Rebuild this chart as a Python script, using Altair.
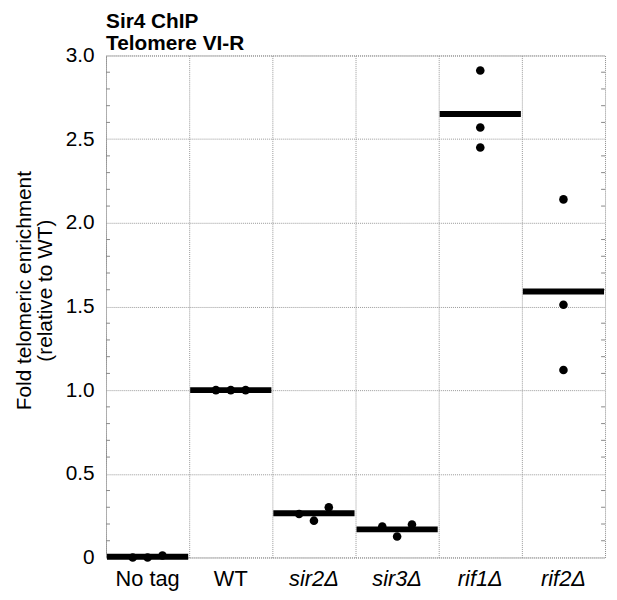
import altair as alt
import pandas as pd

categories = ["No tag", "WT", "sir2Δ", "sir3Δ", "rif1Δ", "rif2Δ"]
rep1 = [0.0, 1.0, 0.26, 0.185, 2.91, 2.14]
rep2 = [0.0, 1.0, 0.22, 0.125, 2.57, 1.51]
rep3 = [0.012, 1.0, 0.30, 0.197, 2.45, 1.12]
pos1 = ["L", "L", "L", "L", "C", "C"]
pos2 = ["C", "C", "C", "C", "C", "C"]
pos3 = ["R", "R", "R", "R", "C", "C"]
means = [0.004, 1.0, 0.264, 0.168, 2.65, 1.59]
y_ticks = [0, 0.5, 1.0, 1.5, 2.0, 2.5, 3.0]
minor_ticks = [0.1, 0.2, 0.3, 0.4, 0.6, 0.7, 0.8, 0.9, 1.1, 1.2, 1.3, 1.4,
               1.6, 1.7, 1.8, 1.9, 2.1, 2.2, 2.3, 2.4, 2.6, 2.7, 2.8, 2.9]

FONT = "Liberation Sans"

rows = []
for reps, poss in [(rep1, pos1), (rep2, pos2), (rep3, pos3)]:
    for c, v, p in zip(categories, reps, poss):
        rows.append({"cat": c, "val": v, "pos": p})
dots_df = pd.DataFrame(rows)
mean_df = pd.DataFrame({"cat": categories, "mean": means})
minor_df = pd.DataFrame({"t": minor_ticks})

xscale = alt.Scale(domain=categories, paddingInner=0, paddingOuter=0)
yscale = alt.Scale(domain=[0, 3], nice=False)

xaxis = alt.Axis(
    title=None, bandPosition=0, grid=True, gridColor="#999", gridDash=[1, 1],
    ticks=False, domain=False, labelAngle=0, labelFontSize=22, labelFont=FONT,
    labelColor="black", labelPadding=11,
    labelFontStyle={"condition": {"test": "datum.value == 'No tag' || datum.value == 'WT'",
                                  "value": "normal"}, "value": "italic"},
)
yaxis = alt.Axis(
    title=["Fold telomeric enrichment", "(relative to WT)"],
    titleFontSize=21, titleFontWeight="normal", titleFont=FONT, titleColor="black",
    titleLineHeight=21, titlePadding=10, titleY=237,
    values=y_ticks, labelExpr="datum.value == 0 ? '0' : format(datum.value, '.1f')",
    grid=True, gridColor="#999", gridDash=[1, 1], ticks=False, domain=False,
    labelFontSize=21, labelFont=FONT, labelColor="black", labelPadding=12,
)

minor_left = alt.Chart(minor_df).mark_rule(color="#888", strokeWidth=1).encode(
    y=alt.Y("t:Q", scale=yscale, axis=yaxis),
    x=alt.value(0), x2=alt.value(4),
)
minor_right = alt.Chart(minor_df).mark_rule(color="#888", strokeWidth=1).encode(
    y=alt.Y("t:Q", scale=yscale),
    x=alt.value(500), x2=alt.value(504),
)
mean_bars = alt.Chart(mean_df).mark_tick(size=82, thickness=6, color="black", opacity=1).encode(
    x=alt.X("cat:N", scale=xscale, axis=xaxis, sort=categories),
    y=alt.Y("mean:Q", scale=yscale),
)
dots = alt.Chart(dots_df).mark_circle(size=75, color="black", opacity=1).encode(
    x=alt.X("cat:N", scale=xscale, sort=categories),
    xOffset=alt.XOffset("pos:N", scale=alt.Scale(domain=["_a", "L", "C", "R", "_b"],
                                                 paddingInner=0, paddingOuter=0.8)),
    y=alt.Y("val:Q", scale=yscale),
)

chart = alt.layer(minor_left, minor_right, mean_bars, dots).properties(
    width=504, height=507,
    autosize="none",
    padding={"left": 99, "top": 45, "right": 4, "bottom": 40},
    title=alt.TitleParams(["Sir4 ChIP", "Telomere VI-R"], anchor="start", frame="group",
                          fontSize=21, fontWeight="bold", font=FONT, color="black",
                          lineHeight=22, offset=-9),
).configure_view(stroke="#888", strokeDash=[1, 1], strokeWidth=1)

chart.save("out.html", embed_options={"renderer": "svg", "actions": False})
